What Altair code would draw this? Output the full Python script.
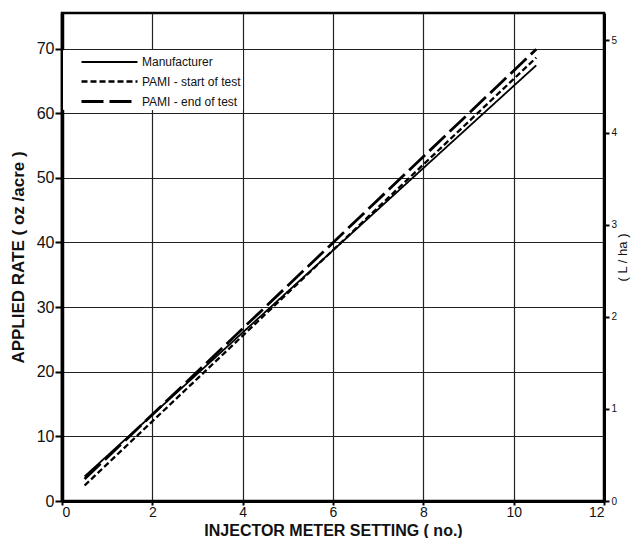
import altair as alt
import pandas as pd

# Data
setting = [0.5, 10.5]
manufacturer = [3.8, 67.4]
pami_start = [2.4, 68.6]
pami_end = [3.4, 69.9]
series_names = ["Manufacturer", "PAMI - start of test", "PAMI - end of test"]
x_ticks = [0, 2, 4, 6, 8, 10, 12]
y_ticks = [0, 10, 20, 30, 40, 50, 60, 70]
lha_ticks = [0, 1, 2, 3, 4, 5]
OZ_PER_LHA = 14.25  # oz/acre per L/ha (imperial)
Y_MAX = 75.5

rows = []
for name, vals in zip(series_names, [manufacturer, pami_start, pami_end]):
    for s, v in zip(setting, vals):
        rows.append({"setting": s, "rate": v, "series": name})
df = pd.DataFrame(rows)

FONT = "Liberation Sans"

xscale = alt.Scale(domain=[0, 12], nice=False)
yscale = alt.Scale(domain=[0, Y_MAX], nice=False)

lines = alt.Chart(df).mark_line(color="black", clip=True).encode(
    x=alt.X("setting:Q", scale=xscale,
            axis=alt.Axis(title="INJECTOR METER SETTING ( no.)", values=x_ticks,
                          grid=True, gridColor="#222", gridWidth=1.2,
                          domainColor="black", domainWidth=3, tickColor="black",
                          tickSize=4, tickWidth=2, labelFont=FONT, labelFontSize=14,
                          labelColor="#111", labelPadding=0, titleFont=FONT, titleFontSize=16,
                          titleFontWeight="bold", titleColor="#111",
                          titleBaseline="alphabetic", titleY=34)),
    y=alt.Y("rate:Q", scale=yscale,
            axis=alt.Axis(title="APPLIED RATE ( oz /acre )", values=y_ticks,
                          grid=True, gridColor="#222", gridWidth=1.2,
                          domainColor="black", domainWidth=3.5, tickColor="black",
                          tickSize=7, tickWidth=2, labelFont=FONT, labelFontSize=16,
                          labelColor="#111", labelPadding=1, titleFont=FONT, titleFontSize=17,
                          titleFontWeight="bold", titleColor="#111", titlePadding=9)),
    strokeDash=alt.StrokeDash("series:N",
                              scale=alt.Scale(domain=series_names,
                                              range=[[1, 0], [6, 3], [22, 6]]),
                              legend=alt.Legend(title=None, orient="none", legendX=1, legendY=37,
                                                symbolType="M-2.8,0L2.8,0", symbolSize=400,
                                                symbolStrokeColor="black", symbolStrokeWidth=2,
                                                symbolOffset=34, labelOffset=21,
                                                labelFont=FONT, labelFontSize=12, labelColor="#111",
                                                rowPadding=2, padding=1,
                                                fillColor="white", strokeColor="white")),
    strokeWidth=alt.StrokeWidth("series:N",
                                scale=alt.Scale(domain=series_names, range=[1.8, 2.8, 1.8]),
                                legend=None),
)

right = alt.Chart(df).transform_calculate(
    lha=f"datum.rate / {OZ_PER_LHA}"
).mark_line(opacity=0).encode(
    x=alt.X("setting:Q", scale=xscale),
    y=alt.Y("lha:Q", scale=alt.Scale(domain=[0, Y_MAX / OZ_PER_LHA], nice=False),
            axis=alt.Axis(orient="right", title="( L / ha )", values=lha_ticks,
                          grid=False, domainColor="black", domainWidth=3, tickColor="black",
                          tickSize=5, tickWidth=2, labelFont=FONT, labelFontSize=10,
                          labelColor="#111", labelPadding=2, titleFont=FONT, titleFontSize=13,
                          titleColor="#111", titleAngle=-90, titlePadding=13,
                          titleFontWeight="normal")),
    detail="series:N",
)

chart = alt.layer(lines, right).resolve_scale(y="independent").properties(
    width=542, height=488,
    autosize=alt.AutoSizeParams(type="none"),
    padding={"left": 54, "top": 5, "right": 29, "bottom": 37},
    background="white",
).configure_view(stroke="black", strokeWidth=2.5)

chart.save("out.html", embed_options={"renderer": "svg", "actions": False})
